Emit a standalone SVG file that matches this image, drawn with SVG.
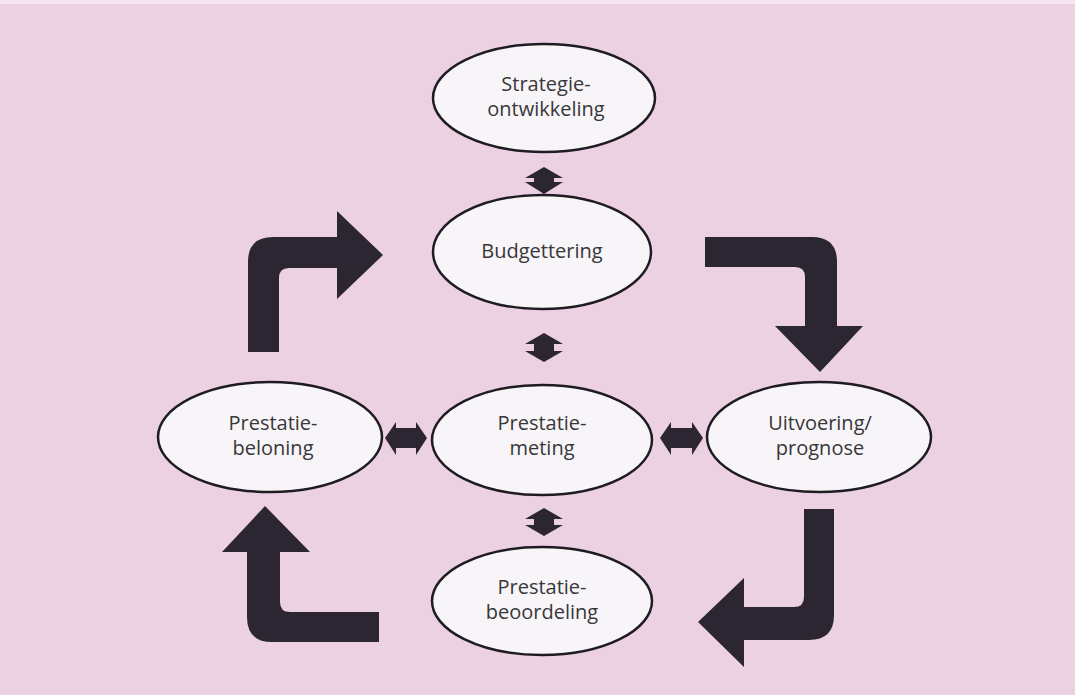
<svg xmlns="http://www.w3.org/2000/svg" width="1075" height="695" viewBox="0 0 1075 695">
<style>
.node ellipse{fill:#f7f5f8;stroke:#1e1b22;stroke-width:2.5}
.node text{font-family:"Open Sans","Liberation Sans",sans-serif;font-size:20px;fill:#38373a;text-anchor:middle}
.big{fill:#2b2631}
.dbl{fill:#2b2631}
</style>
<rect x="0" y="0" width="1075" height="695" fill="#ebd1e1"/>
<rect x="0" y="0" width="1075" height="4" fill="#f3e6ee"/>
<g id="strategie" class="node">
<ellipse cx="544" cy="98" rx="111" ry="54"/>
<text x="546" y="91">Strategie-</text>
<text x="546" y="116">ontwikkeling</text>
</g>
<g id="budgettering" class="node">
<ellipse cx="542" cy="252" rx="109" ry="57"/>
<text x="542" y="258">Budgettering</text>
</g>
<g id="meting" class="node">
<ellipse cx="542" cy="440" rx="110" ry="55"/>
<text x="542" y="430">Prestatie-</text>
<text x="542" y="455">meting</text>
</g>
<g id="beloning" class="node">
<ellipse cx="270" cy="437" rx="112" ry="55"/>
<text x="273" y="430">Prestatie-</text>
<text x="273" y="455">beloning</text>
</g>
<g id="uitvoering" class="node">
<ellipse cx="819" cy="437" rx="112" ry="55"/>
<text x="820" y="430">Uitvoering/</text>
<text x="820" y="455">prognose</text>
</g>
<g id="beoordeling" class="node">
<ellipse cx="542" cy="601" rx="110" ry="54"/>
<text x="542" y="594">Prestatie-</text>
<text x="542" y="619">beoordeling</text>
</g>
<g id="connectors">
<path class="big" d="M248 352 V262 Q248 237 273 237 H337 V211 L383 255 L337 299 V268 H289 Q279 268 279 278 V352 Z"/>
<path class="big" d="M705 237 H812 Q837 237 837 262 V326 H863 L820 372 L775 326 H805 V277 Q805 267 795 267 H705 Z"/>
<path class="big" d="M834 509 V615 Q834 640 809 640 H744 V667 L698 622 L744 578 V607 H794 Q804 607 804 597 V509 Z"/>
<path class="big" d="M379 642 H272 Q247 642 247 617 V552 H222 L265 506 L310 552 H280 V602 Q280 612 290 612 H379 Z"/>
<path class="dbl" d="M544 167 L563 178 H554 V182 H563 L544 194 L525 182 H534 V178 H525 Z"/>
<path class="dbl" d="M544 333 L563 344 H554 V351 H563 L544 362 L525 351 H534 V344 H525 Z"/>
<path class="dbl" d="M544 508 L563 519 H554 V525 H563 L544 536 L525 525 H534 V519 H525 Z"/>
<path class="dbl" d="M385 438 L396 422 V428 H416 V422 L427 438 L416 455 V448 H396 V455 Z"/>
<path class="dbl" d="M660 438 L671 422 V428 H692 V422 L703 438 L692 455 V448 H671 V455 Z"/>
</g>
</svg>
